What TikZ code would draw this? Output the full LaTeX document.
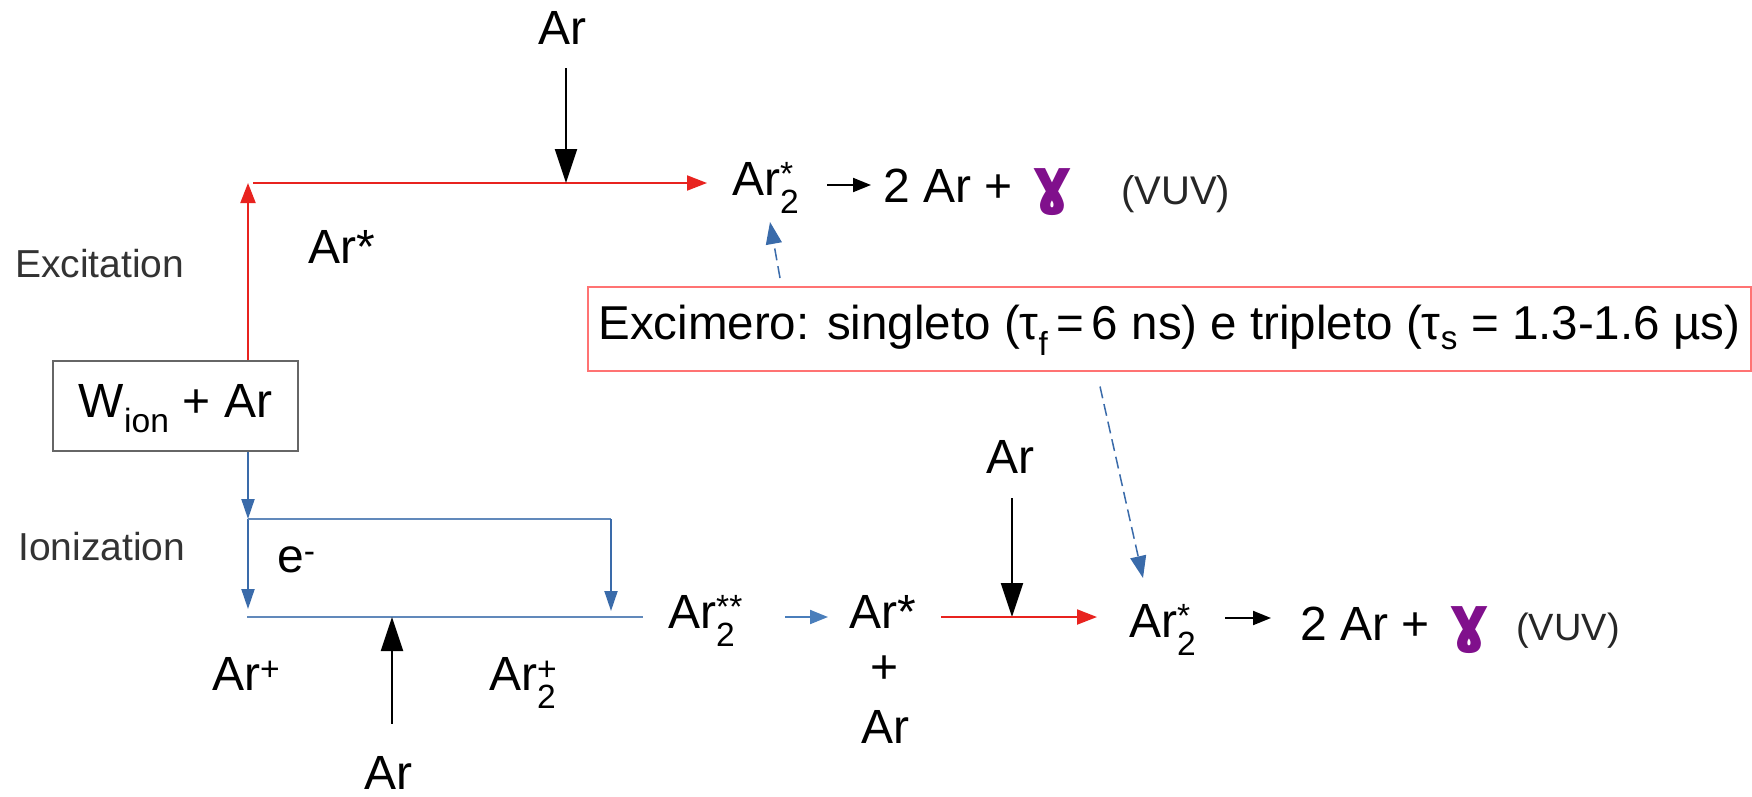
\documentclass[tikz,border=0pt]{standalone}
\usepackage{fontspec}
\usepackage{amsmath}
\setmainfont{Liberation Sans}
\newfontfamily\gamfont{DejaVu Sans}[BoldFont=DejaVu Sans Bold]
\usetikzlibrary{arrows.meta}
\definecolor{lblue}{HTML}{3A6BAA}
\definecolor{sblue}{HTML}{4A7EBB}
\definecolor{gampurple}{HTML}{80108C}
\definecolor{lred}{HTML}{E8231F}
\newcommand\gam{\hspace{7pt}\textcolor{gampurple}{\fontsize{62}{66}\selectfont\gamfont\bfseries ɣ}}
\begin{document}
\begin{tikzpicture}[x=1pt,y=-1pt,
  lbl/.style={inner sep=0pt, font=\fontsize{48}{56}\selectfont},
  side/.style={inner sep=0pt, font=\fontsize{39}{46}\selectfont, text=black!80},
  vuv/.style={inner sep=0pt, font=\fontsize{38}{44}\selectfont, text=black!85},
  redarr/.style={draw=lred, line width=2pt, -{Triangle[length=20pt,width=15pt]}},
  bluearr/.style={draw=lblue, line width=2pt, -{Triangle[length=20pt,width=13pt]}},
  blueln/.style={draw=lblue!80, line width=1.8pt},
  blkarr/.style={draw=black, line width=2pt, -{Triangle[length=34pt,width=22pt]}},
  smallarr/.style={draw=black, line width=2pt, -{Triangle[length=18pt,width=14pt]}},
  sbluearr/.style={draw=sblue, line width=2pt, -{Triangle[length=18pt,width=14pt]}},
  dasharr/.style={draw=lblue, line width=1.5pt, dash pattern=on 12pt off 6pt, -{Triangle[length=22pt,width=16pt]}},
  wboxst/.style={draw=gray!80!black, line width=2pt, minimum width=245pt, minimum height=90pt, inner sep=0pt,
     text height=38pt, text depth=16pt, font=\fontsize{48}{56}\selectfont},
  exboxst/.style={draw=red!55, line width=1.5pt, minimum width=1163pt, minimum height=84pt, inner sep=0pt,
     text height=34pt, text depth=12pt, font=\fontsize{47.5}{56}\selectfont}
]
\useasboundingbox[fill=white] (0,0) rectangle (1752,796);

% side labels
\node[side, anchor=base west] (exc) at (15,277) {Excitation};
\node[side, anchor=base west] (ion) at (18,560) {Ionization};

% W_ion box
\node[wboxst] (wbox) at (175.5,406) {W$_{\text{ion}}$ + Ar};

% ---------- upper branch ----------
\node[lbl, anchor=base] (arT) at (562,44) {Ar};
\coordinate (jT) at (566,183);
\coordinate (cornerT) at (248,183);
\node[lbl, anchor=base west] (arStar) at (308,263) {Ar*};
\node[lbl, anchor=base west] (ar2T) at (732,195) {Ar$_{\text{2}}^{\text{*}}$};
\node[lbl, anchor=base west] (prodT) at (883,202) {2 Ar + \gam};
\node[vuv, anchor=base west, font=\fontsize{40}{46}\selectfont] (vuvT) at (1121,204) {(VUV)};

\draw[redarr] (wbox.north -| cornerT) -- (cornerT);
\draw[redarr] ([xshift=5pt]cornerT) -- ([xshift=-25pt]ar2T.west |- cornerT);
\draw[blkarr, shorten <=24pt] (arT.south -| jT) -- (jT);
\coordinate (sA1) at (827,185);
\coordinate (sA2) at (871,185);
\draw[smallarr] (sA1) -- (sA2);

% ---------- Excimero box ----------
\node[exboxst, anchor=north west] (exbox) at (587,286)
  {Excimero: singleto (τ$_{\text{f}}$\,=\,6 ns) e tripleto (τ$_{\text{s}}$ = 1.3-1.6 µs)};
\coordinate (d1e) at (770,222);
\coordinate (d2e) at (1143,578);
\draw[dasharr] (exbox.north west) ++(193,-8) -- (d1e);
\draw[dasharr] (exbox.south west) ++(513,15) -- (d2e);

% ---------- lower branch ----------
\coordinate (c1) at (248,519);
\coordinate (c1b) at (248,609);
\coordinate (c2) at (611,519);
\coordinate (c2b) at (611,611);
\coordinate (lL) at (247,617);
\coordinate (lR) at (643,617);
\coordinate (jB) at (392,617);

\draw[bluearr] (wbox.south -| c1) -- (c1);
\draw[bluearr] (c1) -- (c1b);
\draw[blueln] (c1) -- (c2);
\draw[bluearr] (c2) -- (c2b);
\draw[blueln] (lL) -- (lR);

\node[lbl, anchor=base west] (em) at (277,572) {e$^{\text{-}}$};
\node[lbl, anchor=base west] (arP) at (212,690) {Ar$^{\text{+}}$};
\node[lbl, anchor=base west] (ar2P) at (489,690) {Ar$_{\text{2}}^{\text{+}}$};
\node[lbl, anchor=base] (arB) at (388,789) {Ar};
\draw[blkarr, shorten <=32pt] (arB.north -| jB) -- (jB);

\node[lbl, anchor=base west] (ar2SS) at (668,628) {Ar$_{\text{2}}^{\text{**}}$};
\coordinate (bA1) at (785,617);
\coordinate (bA2) at (828,617);
\draw[sbluearr] (bA1) -- (bA2);

\node[lbl, anchor=base west] (arS) at (849,628) {Ar*};
\node[lbl] (plus) at (885,670) {+};
\node[lbl, anchor=base] (arS2) at (885,743) {Ar};

\node[lbl, anchor=base] (arM) at (1010,473) {Ar};
\coordinate (jM) at (1012,617);
\draw[blkarr, shorten <=25pt] (arM.south -| jM) -- (jM);
\coordinate (r1) at (941,617);
\coordinate (r2) at (1097,617);
\draw[redarr] (r1) -- (r2);

\node[lbl, anchor=base west] (ar2B) at (1129,637) {Ar$_{\text{2}}^{\text{*}}$};
\coordinate (kA1) at (1225,618);
\coordinate (kA2) at (1271,618);
\draw[smallarr] (kA1) -- (kA2);
\node[lbl, anchor=base west] (prodB) at (1300,640) {2 Ar + \gam};
\node[vuv, anchor=base west] (vuvB) at (1516,640) {(VUV)};
\end{tikzpicture}
\end{document}
